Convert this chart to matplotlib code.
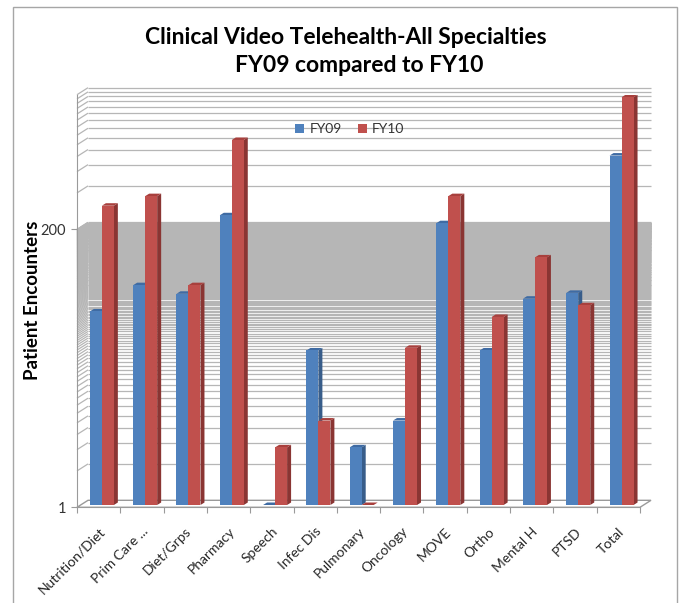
import numpy as np
import matplotlib
matplotlib.use("Agg")
import matplotlib.pyplot as plt
from matplotlib.patches import Polygon, Rectangle, Patch
from matplotlib.collections import LineCollection
from matplotlib import ticker

# data (log scale, base 200)
categories = ["Nutrition/Diet", "Prim Care ...", "Diet/Grps", "Pharmacy",
              "Speech", "Infec Dis", "Pulmonary", "Oncology", "MOVE",
              "Ortho", "Mental H", "PTSD", "Total"]
fy09 = [40, 66, 56, 250, 1, 19, 3, 5, 215, 19, 51, 57, 780]
fy10 = [300, 360, 66, 1050, 3, 5, 1, 20, 360, 36, 112, 45, 2370]
series_names = ["FY09", "FY10"]
y_ticks = [1, 200]

plt.rcParams["font.family"] = ["Lato", "DejaVu Sans"]

W, H = 679, 603
fig = plt.figure(figsize=(W / 100, H / 100), dpi=100)

# front plane of the 3-D box
x0, x1, yb, yt = 77, 640, 507.3, 94.7
ax = fig.add_axes([x0 / W, 1 - yb / H, (x1 - x0) / W, (yb - yt) / H])
ax.set_yscale("log")
ax.set_xlim(-0.5, len(categories) - 0.5)
ax.set_ylim(1, 2600)
ax.patch.set_alpha(0)

ppx = (x1 - x0) / len(categories)
ppd = (yb - yt) / np.log10(2600)


def depth(px, py):
    return px / ppx, 10 ** (py / ppd)


D, F = depth(11, 7)      # back wall
DB, FB = depth(3.2, 2.3)  # plane of the bars' front faces
DD, FD = depth(4, 2.5)    # bar thickness

grid_col = "#b6b6b6"
edge_col = "#9a9a9a"
xl, xr = -0.5, len(categories) - 0.5

# gridlines of the back and side walls (minor steps of the base-200 log axis)
grid_vals = list(range(2, 200)) + list(range(200, 2601, 200))
ax.hlines([v * F for v in grid_vals], xl + D, xr + D, color=grid_col,
          lw=0.9, clip_on=False, zorder=1)
ax.add_collection(LineCollection(
    [[(xl, v), (xl + D, v * F)] for v in grid_vals],
    colors=grid_col, linewidths=0.9, clip_on=False, zorder=1))

# floor
ax.add_patch(Polygon([(xl, 1), (xr, 1), (xr + D, F), (xl + D, F)],
                     closed=True, fc="white", ec=edge_col, lw=1.0,
                     clip_on=False, zorder=1.5))

colors = [("#4f81bd", "#385d8a", "#3f6ba3"),
          ("#c0504d", "#8a3533", "#a8403d")]
w = 12 / ppx
for s, vals in enumerate([fy09, fy10]):
    front, side, top = colors[s]
    lefts = np.arange(len(categories)) + DB - w + s * w
    tops = np.array(vals, dtype=float) * FB
    z = 3 + s * 0.2
    ax.bar(lefts, tops - FB, bottom=FB, width=w, align="edge", color=front,
           lw=0, zorder=z + 0.1, label=series_names[s])
    for L, T in zip(lefts, tops):
        R = L + w
        ax.add_patch(Polygon([(R, FB), (R, T), (R + DD, T * FD), (R + DD, FB * FD)],
                             closed=True, fc=side, lw=0, zorder=z))
        ax.add_patch(Polygon([(L, T), (R, T), (R + DD, T * FD), (L + DD, T * FD)],
                             closed=True, fc=top, lw=0, zorder=z))

for sp in ["top", "right"]:
    ax.spines[sp].set_visible(False)
for sp in ["left", "bottom"]:
    ax.spines[sp].set_color(edge_col)
    ax.spines[sp].set_zorder(2)

ax.set_yticks(y_ticks)
ax.yaxis.set_major_formatter(ticker.FuncFormatter(lambda v, p: f"{v:g}"))
ax.yaxis.set_minor_locator(ticker.NullLocator())
ax.tick_params(axis="y", length=4, color=edge_col, labelsize=10.5,
               labelcolor="#333333", pad=4)

ax.set_xticks(np.arange(xl, xr + 0.01, 1.0))
ax.set_xticklabels([])
ax.set_xticks(np.arange(len(categories)), minor=True)
ax.set_xticklabels(categories, minor=True, rotation=45, ha="right",
                   rotation_mode="anchor")
ax.tick_params(axis="x", which="major", length=4, color=edge_col)
ax.tick_params(axis="x", which="minor", length=0, pad=13, labelsize=10,
               labelcolor="#262626")

fig.text(33 / W, 1 - 300 / H, "Patient Encounters", rotation=90,
         ha="center", va="center", fontsize=13.5, fontweight="bold")
fig.text(346 / W, 1 - 38 / H, "Clinical Video Telehealth-All Specialties",
         ha="center", va="center", fontsize=16.5, fontweight="bold")
fig.text(359 / W, 1 - 66 / H, "FY09 compared to FY10",
         ha="center", va="center", fontsize=16.5, fontweight="bold")

handles = [Patch(fc=colors[0][0]), Patch(fc=colors[1][0])]
fig.legend(handles, series_names, loc="center",
           bbox_to_anchor=(350 / W, 1 - 129 / H), ncol=2, frameon=False,
           handlelength=0.6, handleheight=0.6, handletextpad=0.4,
           columnspacing=1.2, fontsize=10, labelcolor="#333333")

fig.add_artist(Rectangle((12.7 / W, -0.02), (677 - 12.7) / W,
                         1.02 - 7.5 / H, transform=fig.transFigure,
                         fill=False, ec="#a6a6a6", lw=1))

fig.savefig("out.png", dpi=100)
